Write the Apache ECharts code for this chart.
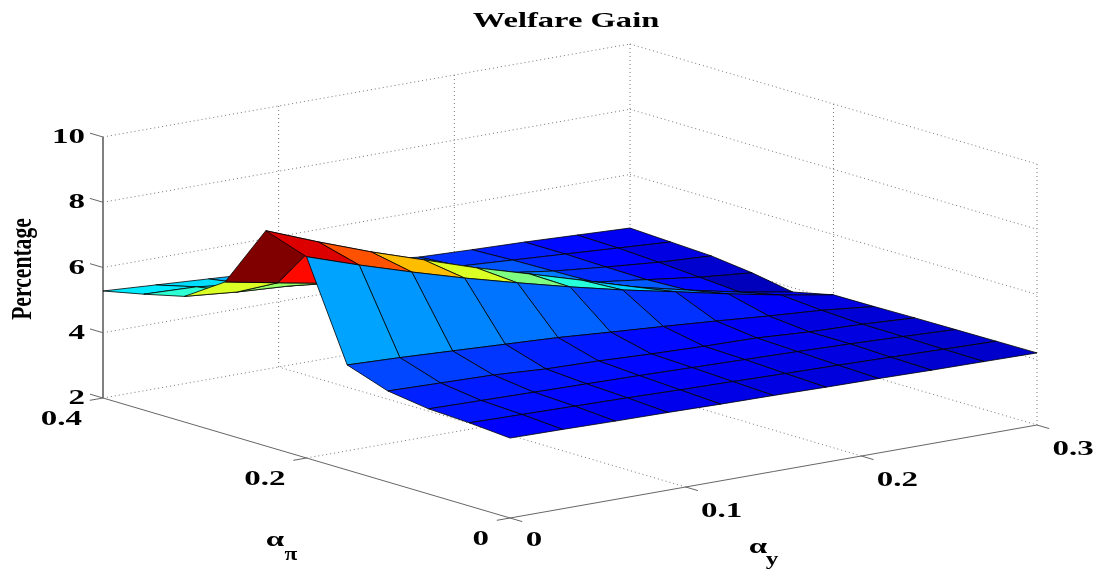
<!DOCTYPE html>
<html><head><meta charset="utf-8"><style>html,body{margin:0;background:#fff}#c{width:1102px;height:571px}</style>
<script src="https://cdn.jsdelivr.net/npm/echarts@6/dist/echarts.min.js"></script></head><body><div id="c"></div>
<script>
const alphaY = [0,0.03,0.06,0.09,0.12,0.15,0.18,0.21,0.24,0.27,0.30];
const alphaPi = [0,0.04,0.08,0.12,0.16,0.20,0.24,0.28,0.32,0.36,0.40];
const gainPi000 = [4.45,4.43,4.40,4.38,4.35,4.33,4.30,4.28,4.25,4.23,4.21];
const gainPi004 = [4.55,4.52,4.49,4.46,4.42,4.39,4.35,4.32,4.28,4.24,4.20];
const gainPi008 = [4.61,4.58,4.55,4.52,4.49,4.45,4.41,4.37,4.32,4.26,4.19];
const gainPi012 = [4.79,4.75,4.71,4.61,4.57,4.50,4.45,4.42,4.32,4.27,4.18];
const gainPi016 = [5.22,5.16,5.08,5.00,4.92,4.80,4.69,4.57,4.44,4.33,4.16];
const gainPi020 = [8.17,7.63,7.13,6.66,6.23,5.82,5.44,5.10,4.75,4.43,4.15];
const gainPi024 = [8.60,7.97,7.38,6.85,6.32,5.85,5.37,4.88,4.50,4.15,3.87];
const gainPi028 = [6.66,6.35,6.05,5.87,5.67,5.40,5.03,4.66,4.45,4.24,4.09];
const gainPi032 = [5.85,5.70,5.60,5.47,5.30,5.08,4.86,4.63,4.47,4.33,4.24];
const gainPi036 = [5.55,5.49,5.29,5.13,4.97,4.81,4.70,4.60,4.50,4.40,4.30];
const gainPi040 = [5.28,5.18,5.08,4.98,4.88,4.78,4.61,4.55,4.50,4.43,4.36];
const gainRows = [gainPi000,gainPi004,gainPi008,gainPi012,gainPi016,gainPi020,gainPi024,gainPi028,gainPi032,gainPi036,gainPi040];
const ticksZ = [2,4,6,8,10];
const ticksY = [0,0.1,0.2,0.3];
const ticksPi = [0,0.2,0.4];

// orthographic camera: maps (alpha_y, alpha_pi, gain) onto the hidden plane axes
const yMax=0.3, piMax=0.4, zMin=2, zMax=10;
function proj(ay,pi,z){
  return [510+ay/yMax*527-pi/piMax*407, 518-ay/yMax*93-pi/piMax*120-(z-zMin)/(zMax-zMin)*261];
}
const cMin=3.87,cMax=8.6;
function jet(v){
  const t=Math.max(0,Math.min(1,(v-cMin)/(cMax-cMin)));
  const f=c=>Math.round(255*Math.max(0,Math.min(1,c)));
  return `rgb(${f(Math.min(4*t-1.5,-4*t+4.5))},${f(Math.min(4*t-0.5,-4*t+3.5))},${f(Math.min(4*t+0.5,-4*t+2.5))})`;
}
const faces=[];
for(let j=alphaPi.length-2;j>=0;j--)for(let i=alphaY.length-2;i>=0;i--)faces.push([i,j]);

const segs=[];
function seg(a,b,k){segs.push([a,b,k]);}
ticksZ.forEach(z=>{seg([0,piMax,z],[yMax,piMax,z],'dot');seg([yMax,piMax,z],[yMax,0,z],'dot');});
ticksY.forEach(y=>{if(y>0)seg([y,piMax,zMin],[y,piMax,zMax],'dot');if(y>0&&y<yMax)seg([y,0,zMin],[y,piMax,zMin],'dot');});
ticksPi.forEach(p=>{if(p<piMax)seg([yMax,p,zMin],[yMax,p,zMax],'dot');if(p>0&&p<piMax)seg([0,p,zMin],[yMax,p,zMin],'dot');});
seg([0,piMax,zMin],[0,piMax,zMax],'zaxis');
seg([0,piMax,zMin],[0,0,zMin],'axis');seg([0,0,zMin],[yMax,0,zMin],'axis');
ticksZ.forEach(z=>seg([0,piMax,z],[0,piMax*1.032,z],'axis'));
ticksY.forEach(y=>seg([y,0,zMin],[y,-piMax*0.03,zMin],'axis'));
ticksPi.forEach(p=>seg([0,p,zMin],[-yMax*0.025,p,zMin],'axis'));

const serif='"Liberation Serif","Times New Roman",serif';
const labels=[
 ...ticksZ.map(z=>{const p=proj(0,piMax,z);return {text:String(z),x:p[0]-18,y:p[1]+0.5,ax:'right',sx:1.5,sy:1,size:22};}),
 ...ticksPi.map(v=>{const p=proj(0,v,zMin);return {text:String(v),x:p[0]-21,y:p[1]+21.5,ax:'right',sx:1.5,sy:1,size:22};}),
 ...ticksY.map(v=>{const p=proj(v,0,zMin);return {text:String(v),x:p[0]+(v===0?24:36),y:p[1]+(v===0?22:24),ax:'center',sx:1.5,sy:1,size:22};}),
 {text:'Welfare Gain',x:566,y:22,ax:'center',sx:1.55,sy:1,size:21},
 {text:'Percentage',x:23,y:269,ax:'center',sx:1.03,sy:1.4,size:21,rot:Math.PI/2},
 {text:'α',x:275,y:540,ax:'center',sx:1.5,sy:1,size:22},
 {text:'π',x:291,y:555,ax:'center',sx:1.3,sy:1,size:18},
 {text:'α',x:758,y:547,ax:'center',sx:1.5,sy:1,size:22},
 {text:'y',x:772,y:560,ax:'center',sx:1.4,sy:1,size:18}
];
const dashStyle={dot:{stroke:'#777',lineWidth:1,lineDash:[1,3]},axis:{stroke:'#666',lineWidth:1},zaxis:{stroke:'#808080',lineWidth:2}};

const chart=echarts.init(document.getElementById('c'),null,{renderer:'canvas'});
chart.setOption({
 animation:false,backgroundColor:'#fff',
 grid:{left:0,right:0,top:0,bottom:0},
 xAxis:{type:'value',min:0,max:1102,show:false},
 yAxis:{type:'value',min:0,max:571,inverse:true,show:false},
 series:[
  {type:'custom',coordinateSystem:'cartesian2d',clip:false,silent:true,z:1,data:segs.map((s,i)=>[i]),
   renderItem(p,api){const s=segs[api.value(0)];const a=api.coord(proj(...s[0])),b=api.coord(proj(...s[1]));
     return {type:'line',shape:{x1:a[0],y1:a[1],x2:b[0],y2:b[1]},style:Object.assign({fill:null},dashStyle[s[2]])};}},
  {type:'custom',coordinateSystem:'cartesian2d',clip:false,silent:true,z:2,progressive:0,data:faces,
   renderItem(p,api){const i=api.value(0),j=api.value(1);
     const c=[[j,i],[j,i+1],[j+1,i+1],[j+1,i]].map(q=>api.coord(proj(alphaY[q[1]],alphaPi[q[0]],gainRows[q[0]][q[1]])));
     return {type:'polygon',shape:{points:c},style:{fill:jet(gainRows[j][i]),stroke:'#000',lineWidth:0.8,opacity:1}};}},
  {type:'custom',coordinateSystem:'cartesian2d',clip:false,silent:true,z:3,data:labels.map((l,i)=>[i]),
   renderItem(p,api){const l=labels[api.value(0)];const c=api.coord([l.x,l.y]);
     return {type:'text',x:c[0],y:c[1],scaleX:l.sx,scaleY:l.sy,rotation:l.rot||0,
       style:{text:l.text,fill:'#000',font:`bold ${l.size}px ${serif}`,align:l.ax,verticalAlign:'middle'}};}}
 ]
});
</script></body></html>
